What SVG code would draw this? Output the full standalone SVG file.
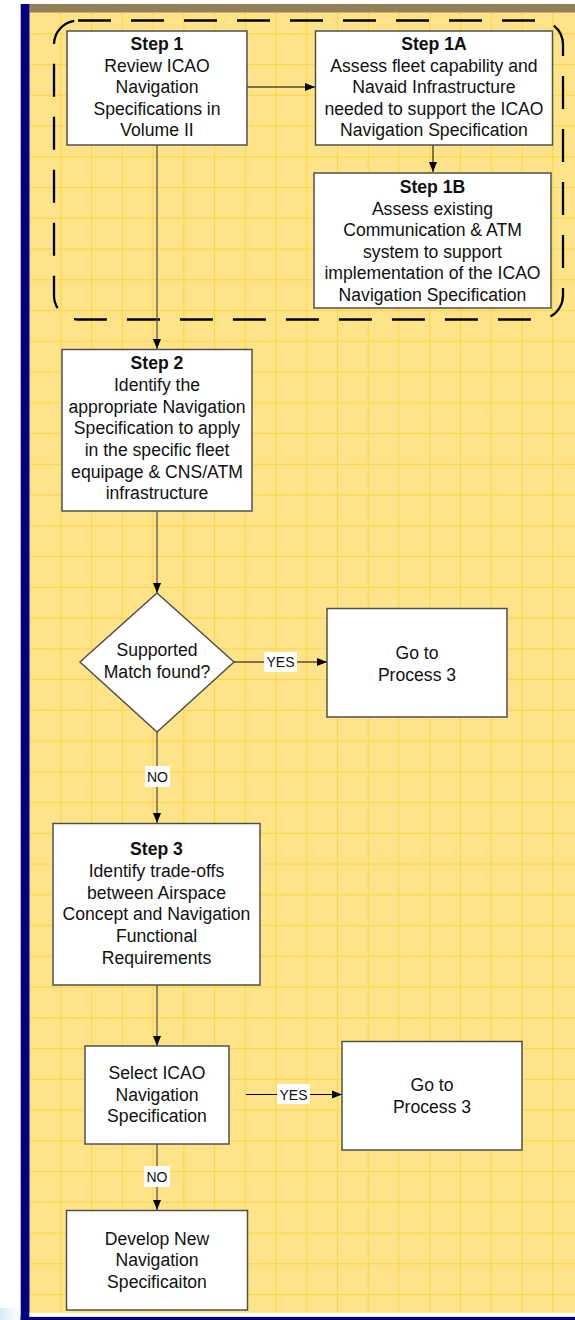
<svg xmlns="http://www.w3.org/2000/svg" width="575" height="1320" viewBox="0 0 575 1320">
<defs>
<pattern id="grid" x="29.5" y="2.55" width="30.75" height="30.75" patternUnits="userSpaceOnUse">
<rect width="30.75" height="30.75" fill="#FFE388"/>
<path d="M0.5 0V30.75M0 0.5H30.75" stroke="#FFD544" stroke-width="1.1" fill="none"/>
</pattern>
<marker id="ah" viewBox="0 0 10 10" refX="10" refY="5" markerWidth="10" markerHeight="10" markerUnits="userSpaceOnUse" orient="auto">
<path d="M0 1L10 5L0 9Z" fill="#000"/>
</marker>
<linearGradient id="lb" x1="0" y1="0" x2="1" y2="0">
<stop offset="0" stop-color="#D8EEF8"/>
<stop offset="1" stop-color="#FFFFFF"/>
</linearGradient>
</defs>
<style>
.box{fill:#fff;stroke:#505050;stroke-width:1.5}
.t{font-family:"Liberation Sans",Arial,sans-serif;font-size:17.6px;fill:#111;text-anchor:middle}
.b{font-weight:bold}
.lbl{font-family:"Liberation Sans",Arial,sans-serif;font-size:14px;fill:#111;text-anchor:middle}
.c{stroke:#000;stroke-width:1;fill:none}
.cg{stroke:#555;stroke-width:1.3;fill:none}
</style>
<rect width="575" height="1320" fill="#fff"/>
<rect x="0" y="1308" width="21" height="12" fill="url(#lb)"/>
<rect x="29.5" y="4" width="545.5" height="1309" fill="url(#grid)"/>
<rect x="29.5" y="4" width="545.5" height="8.5" fill="#94805A"/>
<rect x="20.7" y="4" width="8.8" height="1316" fill="#000080"/>
<rect x="20.7" y="1316.7" width="554.3" height="3.3" fill="#000080"/>
<rect x="29.5" y="1312.7" width="545.5" height="4" fill="#fff"/>

<g id="group1">
<rect x="54" y="20.5" width="509" height="299" rx="24" ry="24" fill="none" stroke="#000" stroke-width="2.3" stroke-dasharray="33 20"/>
</g>

<g id="connectors">
<line class="c" x1="247" y1="87" x2="315" y2="87" marker-end="url(#ah)"/>
<line class="c" x1="433" y1="145" x2="433" y2="172" marker-end="url(#ah)"/>
<line class="cg" x1="157" y1="145" x2="157" y2="349" marker-end="url(#ah)"/>
<line class="cg" x1="157" y1="511" x2="157" y2="593" marker-end="url(#ah)"/>
<line class="c" x1="234" y1="662" x2="327" y2="662" marker-end="url(#ah)"/>
<rect x="264" y="652" width="33" height="20" fill="#fff"/>
<text class="lbl" x="280.5" y="667">YES</text>
<line class="cg" x1="157" y1="732" x2="157" y2="823" marker-end="url(#ah)"/>
<rect x="145" y="766" width="25" height="21" fill="#fff"/>
<text class="lbl" x="157.5" y="781.5">NO</text>
<line class="cg" x1="157" y1="985" x2="157" y2="1046" marker-end="url(#ah)"/>
<line class="c" x1="246" y1="1094.5" x2="342" y2="1094.5" marker-end="url(#ah)"/>
<rect x="277" y="1084" width="33" height="20" fill="#fff"/>
<text class="lbl" x="293.5" y="1099.5">YES</text>
<line class="cg" x1="157" y1="1144" x2="157" y2="1210" marker-end="url(#ah)"/>
<rect x="144" y="1166" width="26" height="21" fill="#fff"/>
<text class="lbl" x="157" y="1181.5">NO</text>
</g>

<g id="step1">
<rect class="box" x="67" y="31" width="180" height="114"/>
<text class="t b" x="157" y="50">Step 1</text>
<text class="t" x="157" y="71.5">Review ICAO</text>
<text class="t" x="157" y="93">Navigation</text>
<text class="t" x="157" y="114.5">Specifications in</text>
<text class="t" x="157" y="136">Volume II</text>
</g>

<g id="step1a">
<rect class="box" x="315.5" y="31" width="237" height="114"/>
<text class="t b" x="434" y="50">Step 1A</text>
<text class="t" x="434" y="71.5">Assess fleet capability and</text>
<text class="t" x="434" y="93">Navaid Infrastructure</text>
<text class="t" x="434" y="114.5">needed to support the ICAO</text>
<text class="t" x="434" y="136">Navigation Specification</text>
</g>

<g id="step1b">
<rect class="box" x="314" y="173" width="237" height="135"/>
<text class="t b" x="432.5" y="193">Step 1B</text>
<text class="t" x="432.5" y="214.5">Assess existing</text>
<text class="t" x="432.5" y="236">Communication &amp; ATM</text>
<text class="t" x="432.5" y="257.5">system to support</text>
<text class="t" x="432.5" y="279">implementation of the ICAO</text>
<text class="t" x="432.5" y="300.5">Navigation Specification</text>
</g>

<g id="step2">
<rect class="box" x="62" y="349.5" width="190" height="161.5"/>
<text class="t b" x="157" y="369">Step 2</text>
<text class="t" x="157" y="390.5">Identify the</text>
<text class="t" x="157" y="412.5">appropriate Navigation</text>
<text class="t" x="157" y="434">Specification to apply</text>
<text class="t" x="157" y="456">in the specific fleet</text>
<text class="t" x="157" y="477.5">equipage &amp; CNS/ATM</text>
<text class="t" x="157" y="499">infrastructure</text>
</g>

<g id="decision">
<polygon class="box" points="157,593 234,662 157,732 80,662"/>
<text class="t" x="157" y="656">Supported</text>
<text class="t" x="157" y="678">Match found?</text>
</g>

<g id="process3a">
<rect class="box" x="327" y="608.5" width="180" height="108.5"/>
<text class="t" x="417" y="659">Go to</text>
<text class="t" x="417" y="680.5">Process 3</text>
</g>

<g id="step3">
<rect class="box" x="53" y="823.5" width="207" height="161.5"/>
<text class="t b" x="156.5" y="855">Step 3</text>
<text class="t" x="156.5" y="876.5">Identify trade-offs</text>
<text class="t" x="156.5" y="898.5">between Airspace</text>
<text class="t" x="156.5" y="920">Concept and Navigation</text>
<text class="t" x="156.5" y="942">Functional</text>
<text class="t" x="156.5" y="963.5">Requirements</text>
</g>

<g id="select">
<rect class="box" x="85" y="1046" width="144" height="98"/>
<text class="t" x="157" y="1079">Select ICAO</text>
<text class="t" x="157" y="1100.5">Navigation</text>
<text class="t" x="157" y="1122">Specification</text>
</g>

<g id="process3b">
<rect class="box" x="342" y="1041.5" width="180" height="108.5"/>
<text class="t" x="432" y="1091">Go to</text>
<text class="t" x="432" y="1112.5">Process 3</text>
</g>

<g id="develop">
<rect class="box" x="66.5" y="1210.5" width="181" height="99.5"/>
<text class="t" x="157" y="1244.5">Develop New</text>
<text class="t" x="157" y="1266">Navigation</text>
<text class="t" x="157" y="1287.5">Specificaiton</text>
</g>
</svg>
